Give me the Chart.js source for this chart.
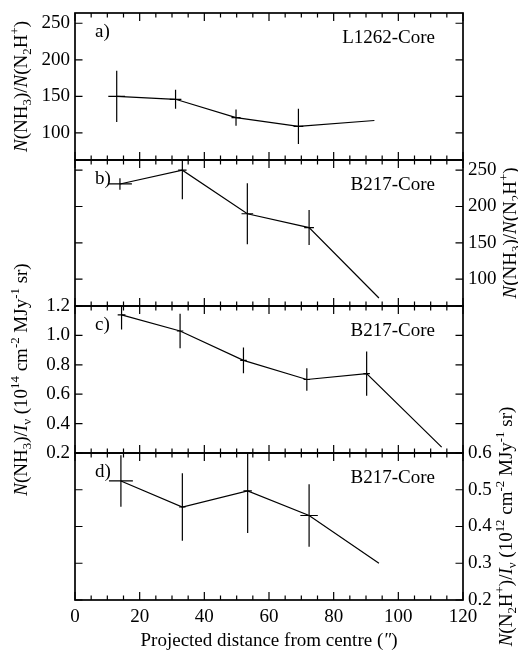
<!DOCTYPE html>
<html><head><meta charset="utf-8">
<script src="https://cdn.jsdelivr.net/npm/chart.js@4.4.0/dist/chart.umd.min.js"></script>
<style>
html,body{margin:0;padding:0;background:#fff;}
#wrap{position:relative;width:518px;height:651px;overflow:hidden;}
#wrap canvas{position:absolute;left:0;top:0;}
</style></head><body>
<div id="wrap">
<canvas id="ca" width="518" height="651"></canvas>
<canvas id="cb" width="518" height="651"></canvas>
<canvas id="cc" width="518" height="651"></canvas>
<canvas id="cd" width="518" height="651"></canvas>
</div>
<script>
// ---------- data ----------
const xMajorStep = 20;
const xMinorStep = 5;
const ratioTicks = [100, 150, 200, 250];
const nh3Ticks   = [0.2, 0.4, 0.6, 0.8, 1.0, 1.2];
const n2hTicks   = [0.2, 0.3, 0.4, 0.5, 0.6];
// a) L1262-Core : N(NH3)/N(N2H+)
const aDist     = [12.9, 31.1, 49.8, 69.1, 92.6];
const aDistErr  = [2.6, 1.8, 1.4, 1.5, 0];
const aRatio    = [150, 146, 121, 109, 117];
const aRatioErr = [35, 13, 11, 24, 0];
// b) B217-Core : N(NH3)/N(N2H+)
const bDist     = [13.9, 33.2, 53.3, 72.4, 94.0];
const bDistErr  = [3.7, 1.3, 1.8, 1.5, 0];
const bRatio    = [231, 250, 190, 171, 74];
const bRatioErr = [8, 40, 42, 24, 0];
// c) B217-Core : N(NH3)/I_nu
const cDist     = [14.4, 32.5, 52.1, 71.7, 90.2, 113.4];
const cDistErr  = [1.2, 1.0, 1.0, 1.0, 1.0, 0];
const cNH3      = [1.14, 1.03, 0.83, 0.70, 0.74, 0.24];
const cNH3Err   = [0.10, 0.117, 0.088, 0.077, 0.15, 0];
// d) B217-Core : N(N2H+)/I_nu
const dDist     = [14.2, 33.2, 53.4, 72.4, 94.0];
const dDistErr  = [3.7, 1.0, 1.3, 2.7, 0];
const dN2H      = [0.524, 0.453, 0.497, 0.43, 0.30];
const dN2HErr   = [0.07, 0.092, 0.115, 0.085, 0];

const ratioTitle = "*N*(NH_{3})/*N*(N_{2}H^{+})";
const nh3Title   = "*N*(NH_{3})/*I*_{ν} (10^{14} cm^{-2} MJy^{-1} sr)";
const n2hTitle   = "*N*(N_{2}H^{+})/*I*_{ν} (10^{12} cm^{-2} MJy^{-1} sr)";
const xTitle     = "Projected distance from centre (*″*)";

// ---------- helpers ----------
const FONT = '"Liberation Serif", "Times New Roman", serif';
const FS = 19;
Chart.defaults.font.family = FONT;
Chart.defaults.font.size = FS;
Chart.defaults.color = '#000';

function parseRich(str){
  const segs=[]; let i=0, ital=false, buf='';
  const flush=()=>{ if(buf){segs.push({t:buf,i:ital,s:0}); buf='';} };
  while(i<str.length){
    const c=str[i];
    if(c==='*'){flush(); ital=!ital; i++;}
    else if(c==='_'||c==='^'){flush(); const end=str.indexOf('}',i); segs.push({t:str.slice(i+2,end),i:false,s:c==='^'?1:-1}); i=end+1;}
    else {buf+=c;i++;}
  }
  flush(); return segs;
}
function drawRich(ctx, str, x, y, rot, size){
  const segs = parseRich(str);
  ctx.save(); ctx.translate(x,y); ctx.rotate(rot);
  const parts = segs.map(s=>{
    const sz = s.s ? size*0.68 : size;
    const font = (s.i?'italic ':'') + sz.toFixed(1) + 'px ' + FONT;
    ctx.font = font;
    return {t:s.t, font, w:ctx.measureText(s.t).width, dy: s.s===1 ? -size*0.40 : (s.s===-1 ? size*0.22 : 0)};
  });
  const total = parts.reduce((a,p)=>a+p.w,0);
  let cx = -total/2;
  ctx.fillStyle='#000'; ctx.textBaseline='alphabetic'; ctx.textAlign='left';
  parts.forEach(p=>{ctx.font=p.font; ctx.fillText(p.t,cx,p.dy); cx+=p.w;});
  ctx.restore();
}

function panelPlugin(cfg){
  return {
    id:'panel_'+cfg.letter,
    afterDatasetsDraw(chart){
      const {ctx, chartArea:a, scales} = chart;
      const xs=scales.x, ys=scales.y;
      ctx.save();
      ctx.beginPath(); ctx.rect(a.left,a.top,a.right-a.left,a.bottom-a.top); ctx.clip();
      ctx.strokeStyle='#000'; ctx.lineWidth=1.2;
      cfg.x.forEach((xv,i)=>{
        const yv=cfg.y[i];
        const px=xs.getPixelForValue(xv), py=ys.getPixelForValue(yv);
        ctx.beginPath();
        if(cfg.yErr[i]){ctx.moveTo(px,ys.getPixelForValue(yv-cfg.yErr[i])); ctx.lineTo(px,ys.getPixelForValue(yv+cfg.yErr[i]));}
        if(cfg.xErr[i]){ctx.moveTo(xs.getPixelForValue(xv-cfg.xErr[i]),py); ctx.lineTo(xs.getPixelForValue(xv+cfg.xErr[i]),py);}
        ctx.stroke();
      });
      ctx.restore();
    },
    afterDraw(chart){
      const {ctx, chartArea:a, scales} = chart;
      const xs=scales.x, ys=scales.y, ys2=scales.y2;
      ctx.save();
      ctx.strokeStyle='#000';
      ctx.lineWidth=1.2;
      ctx.beginPath();
      xs.ticks.forEach(t=>{
        const px=xs.getPixelForValue(t.value);
        const len = (t.value % xMajorStep === 0) ? 8 : 4.5;
        ctx.moveTo(px,a.top); ctx.lineTo(px,a.top+len);
        ctx.moveTo(px,a.bottom); ctx.lineTo(px,a.bottom-len);
      });
      ys.ticks.forEach(t=>{
        const py=ys.getPixelForValue(t.value);
        ctx.moveTo(a.left,py); ctx.lineTo(a.left+7.5,py);
      });
      ys2.ticks.forEach(t=>{
        const py=ys2.getPixelForValue(t.value);
        ctx.moveTo(a.right,py); ctx.lineTo(a.right-7.5,py);
      });
      ctx.stroke();
      ctx.lineWidth=1.7;
      ctx.strokeRect(a.left,a.top,a.right-a.left,a.bottom-a.top);
      ctx.fillStyle='#000';
      ctx.font = FS+'px '+FONT;
      ctx.textBaseline='alphabetic';
      ctx.textAlign='left';
      ctx.fillText(cfg.letter+')', a.left+20, a.top+24);
      ctx.textAlign='right';
      ctx.fillText(cfg.name, a.right-28, a.top+30);
      const midY=(a.top+a.bottom)/2;
      if(cfg.leftTitle) drawRich(ctx, cfg.leftTitle, 27, midY, -Math.PI/2, FS);
      if(cfg.rightTitle) drawRich(ctx, cfg.rightTitle, cfg.rightX, midY, -Math.PI/2, FS);
      if(cfg.bottomTitle) drawRich(ctx, cfg.bottomTitle, (a.left+a.right)/2, 646, 0, FS);
      ctx.restore();
    }
  };
}

function zeroPad(s){ s.paddingTop=0; s.paddingBottom=0; s.paddingLeft=0; s.paddingRight=0; }

function makePanel(id, cfg){
  const xH = cfg.showX ? 40 : 0;
  const setTicks = s => { s.ticks = cfg.ticks.map(v=>({value:v})); };
  return new Chart(document.getElementById(id), {
    type:'scatter',
    data:{datasets:[{
      data: cfg.x.map((xv,i)=>({x:xv, y:cfg.y[i]})),
      showLine:true, borderColor:'#000', borderWidth:1.2,
      pointRadius:0, pointHoverRadius:0, tension:0, fill:false
    }]},
    options:{
      responsive:false, animation:false, devicePixelRatio:1,
      events:[],
      layout:{padding:{top:cfg.top, bottom:651-cfg.bottom-xH, left:0, right:0}},
      plugins:{legend:{display:false}, tooltip:{enabled:false}},
      scales:{
        x:{type:'linear', position:'bottom', min:0, max:120,
           grid:{display:false, drawTicks:false}, border:{display:false},
           ticks:{display:cfg.showX, stepSize:xMinorStep, autoSkip:false, maxRotation:0, padding:6,
                  callback:v=> (v % xMajorStep === 0 ? String(v) : '')},
           afterFit:s=>{ s.height=xH; zeroPad(s); }},
        y:{type:'linear', position:'left', min:cfg.min, max:cfg.max,
           grid:{display:false, drawTicks:false}, border:{display:false},
           afterBuildTicks:setTicks,
           ticks:{display:cfg.leftLabels, autoSkip:false, padding:5, callback:v=> cfg.fmt(v)},
           afterFit:s=>{ s.width=75; zeroPad(s); }},
        y2:{type:'linear', position:'right', min:cfg.min, max:cfg.max,
           grid:{display:false, drawTicks:false}, border:{display:false},
           afterBuildTicks:setTicks,
           ticks:{display:cfg.rightLabels, autoSkip:false, padding:5, callback:v=> cfg.fmt(v)},
           afterFit:s=>{ s.width=55; zeroPad(s); }}
      }
    },
    plugins:[panelPlugin(cfg)]
  });
}

const intFmt = v => String(Math.round(v));
const decFmt = v => Number(v).toFixed(1);

makePanel('ca', {letter:'a', name:'L1262-Core', x:aDist, y:aRatio, xErr:aDistErr, yErr:aRatioErr,
  top:13, bottom:160, min:63, max:264, ticks:ratioTicks, fmt:intFmt, leftLabels:true, rightLabels:false,
  leftTitle:ratioTitle});
makePanel('cb', {letter:'b', name:'B217-Core', x:bDist, y:bRatio, xErr:bDistErr, yErr:bRatioErr,
  top:160, bottom:306, min:63, max:264, ticks:ratioTicks, fmt:intFmt, leftLabels:false, rightLabels:true,
  rightTitle:ratioTitle, rightX:516});
makePanel('cc', {letter:'c', name:'B217-Core', x:cDist, y:cNH3, xErr:cDistErr, yErr:cNH3Err,
  top:306, bottom:453, min:0.2, max:1.2, ticks:nh3Ticks, fmt:decFmt, leftLabels:true, rightLabels:false,
  leftTitle:nh3Title});
makePanel('cd', {letter:'d', name:'B217-Core', x:dDist, y:dN2H, xErr:dDistErr, yErr:dN2HErr,
  top:453, bottom:600, min:0.2, max:0.6, ticks:n2hTicks, fmt:decFmt, leftLabels:false, rightLabels:true,
  rightTitle:n2hTitle, rightX:512, showX:true, bottomTitle:xTitle});
</script>
</body></html>
